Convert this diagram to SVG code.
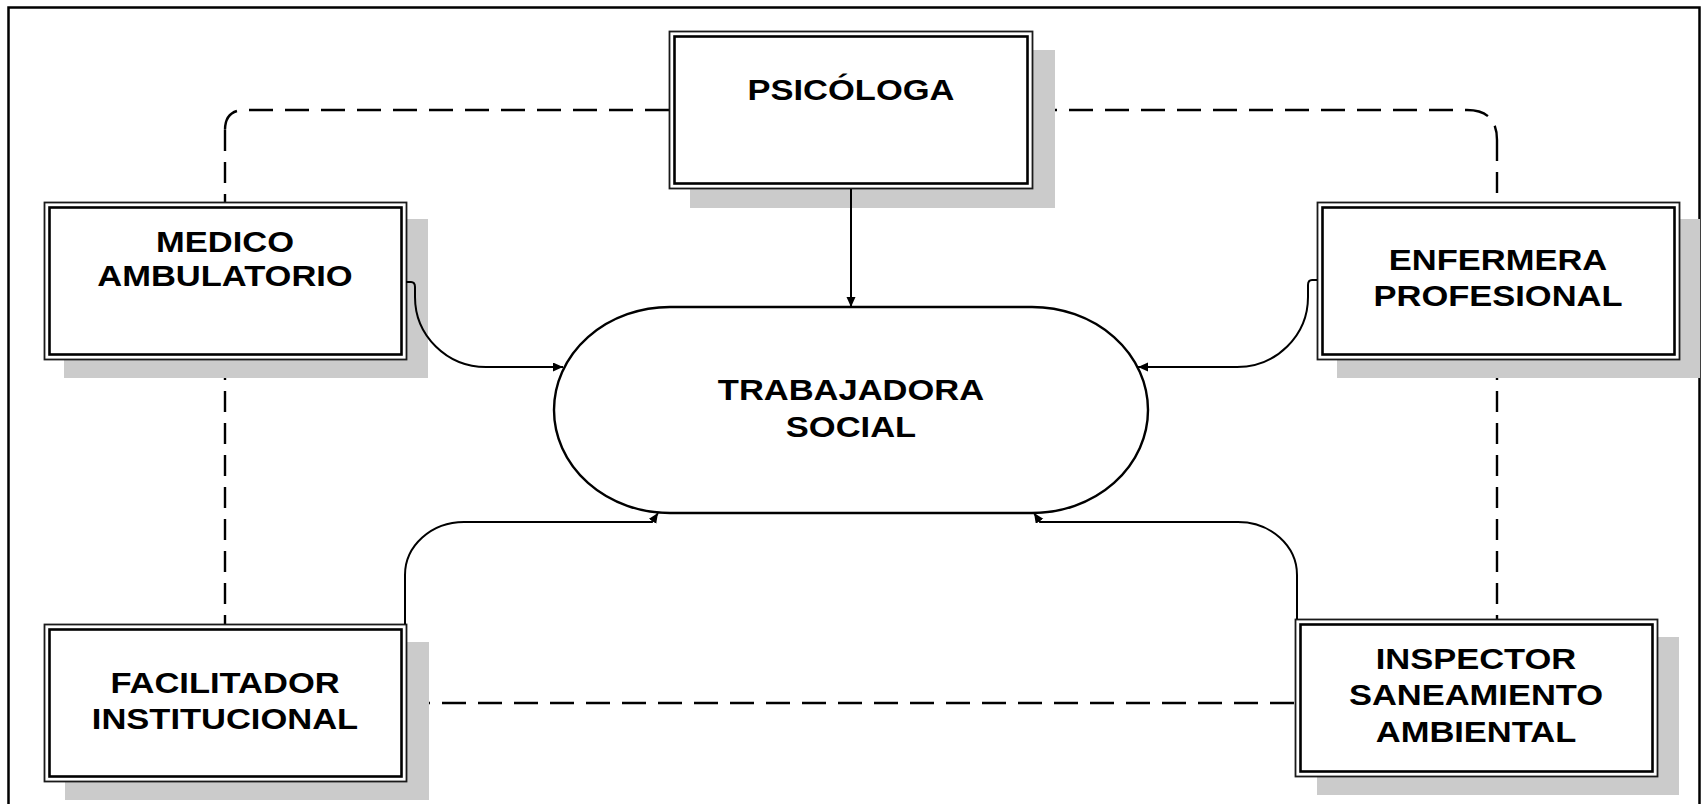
<svg xmlns="http://www.w3.org/2000/svg" width="1705" height="804" viewBox="0 0 1705 804">
<style>
.frame{fill:none;stroke:#000;stroke-width:2.5}
.shadow{fill:#cbcbcb;stroke:none}
.outer{fill:#fff;stroke:#1a1a1a;stroke-width:1.8}
.inner{fill:none;stroke:#000;stroke-width:2.6}
.dash{fill:none;stroke:#000;stroke-width:2.4;stroke-dasharray:24 12}
.vdash{fill:none;stroke:#000;stroke-width:2.4;stroke-dasharray:21 11}
.solid{fill:none;stroke:#000;stroke-width:2;marker-end:url(#arr)}
.lbl{font-family:"Liberation Sans",Arial,sans-serif;font-weight:bold;font-size:30px;fill:#000;text-anchor:middle}
.stadium{fill:#fff;stroke:#000;stroke-width:2.4}
</style>
<defs>
<marker id="arr" markerUnits="userSpaceOnUse" markerWidth="11" markerHeight="10" refX="10" refY="4.5" orient="auto">
<path d="M0,0 L10,4.5 L0,9 z" fill="#000"/>
</marker>
</defs>
<rect width="1705" height="804" fill="#fff"/>
<rect class="frame" x="8.5" y="7.5" width="1691" height="800"/>
<g id="connectors-dashed">
<path class="dash" d="M669,110 H245 Q225,110 225,130"/>
<path class="vdash" d="M225,130 V202"/>
<path class="dash" d="M1033,110 H1467 Q1497,110 1497,140"/>
<path class="vdash" d="M1497,140 V202"/>
<path class="vdash" d="M225,359 V624"/>
<path class="vdash" d="M1497,359 V619"/>
<path class="dash" d="M406,703 H1295"/>
</g>
<g id="node-psicologa">
<rect class="shadow" x="690" y="50" width="365" height="158"/>
<rect class="outer" x="669.5" y="31.5" width="363" height="157"/>
<rect class="inner" x="674.5" y="36.5" width="353" height="147"/>
<text class="lbl" transform="translate(851 0) scale(1.15 1)"><tspan x="0" y="100">PSICÓLOGA</tspan></text>
</g>
<g id="node-medico">
<rect class="shadow" x="64" y="219" width="364" height="159"/>
<rect class="outer" x="44.5" y="202.5" width="362" height="157"/>
<rect class="inner" x="49.5" y="207.5" width="352" height="147"/>
<text class="lbl" transform="translate(225 0) scale(1.15 1)"><tspan x="0" y="252">MEDICO</tspan><tspan x="0" y="286">AMBULATORIO</tspan></text>
</g>
<g id="node-enfermera">
<rect class="shadow" x="1337" y="219" width="363" height="159"/>
<rect class="outer" x="1317.5" y="202.5" width="362" height="157"/>
<rect class="inner" x="1322.5" y="207.5" width="352" height="147"/>
<text class="lbl" transform="translate(1498 0) scale(1.15 1)"><tspan x="0" y="270">ENFERMERA</tspan><tspan x="0" y="306">PROFESIONAL</tspan></text>
</g>
<g id="node-facilitador">
<rect class="shadow" x="65" y="642" width="364" height="158"/>
<rect class="outer" x="44.5" y="624.5" width="362" height="157"/>
<rect class="inner" x="49.5" y="629.5" width="352" height="147"/>
<text class="lbl" transform="translate(225 0) scale(1.15 1)"><tspan x="0" y="693">FACILITADOR</tspan><tspan x="0" y="729">INSTITUCIONAL</tspan></text>
</g>
<g id="node-inspector">
<rect class="shadow" x="1317" y="637" width="362" height="158"/>
<rect class="outer" x="1295.5" y="619.5" width="362" height="157"/>
<rect class="inner" x="1300.5" y="624.5" width="352" height="147"/>
<text class="lbl" transform="translate(1476 0) scale(1.15 1)"><tspan x="0" y="669">INSPECTOR</tspan><tspan x="0" y="705">SANEAMIENTO</tspan><tspan x="0" y="742">AMBIENTAL</tspan></text>
</g>
<g id="node-trabajadora">
<rect class="stadium" x="554" y="307" width="594" height="206" rx="116" ry="103"/>
<text class="lbl" transform="translate(851 0) scale(1.15 1)"><tspan x="0" y="400">TRABAJADORA</tspan><tspan x="0" y="437">SOCIAL</tspan></text>
</g>
<g id="connectors">
<path class="solid" d="M851,189 V307"/>
<path class="solid" d="M406,282 H411 Q415,282 415,287 V297 A71,70 0 0 0 486,367 H563"/>
<path class="solid" d="M1317,280 H1312 Q1308,280 1308,285 V297 A71,70 0 0 1 1237,367 H1138"/>
<path class="solid" d="M405,624 V575 A59,53 0 0 1 464,522 H652 L658,513"/>
<path class="solid" d="M1297,619 V575 A59,53 0 0 0 1238,522 H1040 L1034,513"/>
</g>
</svg>
